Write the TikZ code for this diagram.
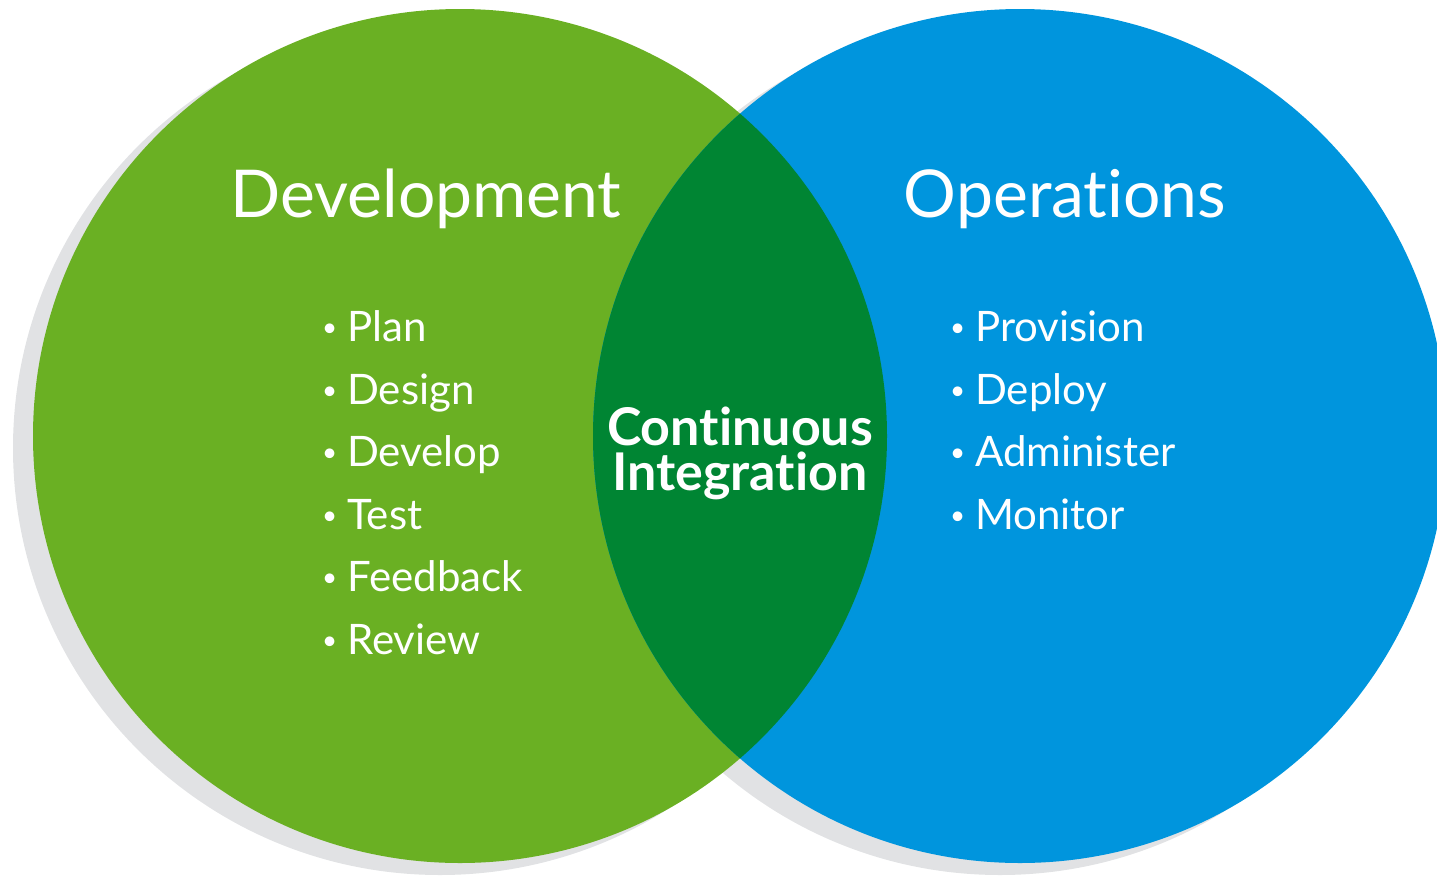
\documentclass[tikz,border=0pt]{standalone}
\usepackage{fontspec}
\setmainfont[Ligatures={NoCommon,NoContextual}]{Lato}
\definecolor{devgreen}{HTML}{6AB023}
\definecolor{cigreen}{HTML}{008533}
\definecolor{opsblue}{HTML}{0095DD}
\definecolor{shadowgrey}{HTML}{E1E2E4}
\newcommand{\bul}{\makebox[25pt][l]{\raisebox{5pt}{\fontsize{26}{26}\selectfont •}}}
\tikzset{
  title/.style={text=white, anchor=base, inner sep=0pt, font=\fontsize{66}{72}\selectfont},
  item/.style={text=white, anchor=base west, inner sep=0pt, font=\fontsize{42}{46}\selectfont},
  ci/.style={text=white, anchor=base, inner sep=0pt, align=center, font=\bfseries\fontsize{52}{45}\selectfont},
}
\begin{document}
\begin{tikzpicture}[x=1pt,y=-1pt]
\useasboundingbox (0,0) rectangle (1437,876);
\clip (0,0) rectangle (1437,876);
% shadows
\fill[shadowgrey] (440,448) circle[radius=427];
\fill[shadowgrey] (1000,448) circle[radius=427];
% circles
\fill[devgreen] (460,436) circle[radius=427];
\fill[opsblue] (1020,436) circle[radius=427];
\begin{scope}
  \clip (460,436) circle[radius=427];
  \fill[cigreen] (1020,436) circle[radius=427];
\end{scope}
% titles
\node[title] (dev) at (426,217) {Development};
\node[title] (ops) at (1065,217) {Operations};
% dev items
\node[item] (i1) at (322,341) {\bul Plan};
\node[item] (i2) at (322,404) {\bul Design};
\node[item] (i3) at (322,466) {\bul Develop};
\node[item] (i4) at (322,529) {\bul Test};
\node[item] (i5) at (322,591) {\bul Feedback};
\node[item] (i6) at (322,654) {\bul Review};
% ops items
\node[item] (o1) at (950,341) {\bul Provision};
\node[item] (o2) at (950,404) {\bul Deploy};
\node[item] (o3) at (950,466) {\bul Administer};
\node[item] (o4) at (950,529) {\bul Monitor};
% CI
\node[ci] (ci) at (740,490) {Continuous\\Integration};
\end{tikzpicture}
\end{document}
